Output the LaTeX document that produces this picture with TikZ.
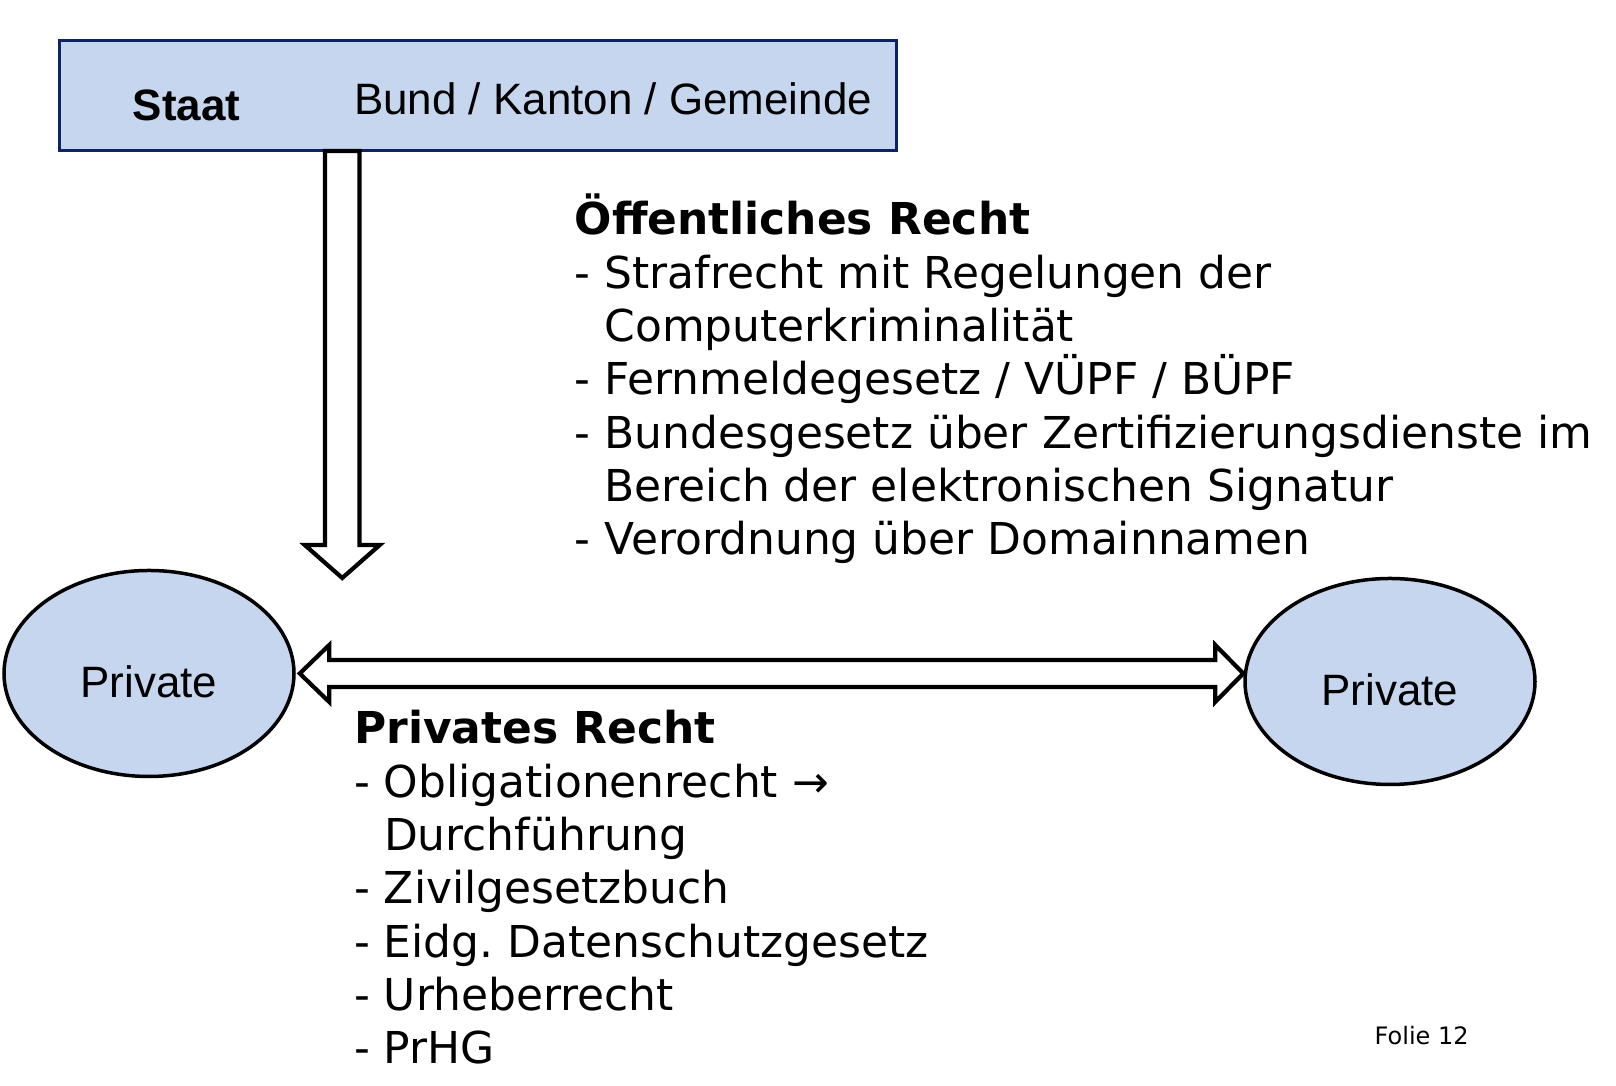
\documentclass[tikz,border=0pt]{standalone}
\usepackage{xcolor}
\usepackage{amsmath}
\usepackage{fontspec}
\usepackage{tikz}
\usetikzlibrary{calc}
\usetikzlibrary{shapes.geometric}
\setmainfont{DejaVu Sans}
\newfontfamily\arialfont{Liberation Sans}

\begin{document}
\begin{tikzpicture}[
    staatbox/.style={draw=r12g36b98, fill=r198g214b239, line width=0.030cm, inner sep=0pt},
    boxtext/.style={anchor=base west, inner sep=0pt, font=\arialfont\fontsize{12.5}{15}\selectfont},
    listtext/.style={anchor=base west, inner sep=0pt, font=\frenchspacing\fontsize{12.5}{15.16}\selectfont},
    privnode/.style={ellipse, draw=black, fill=r198g214b239, line width=0.035cm, inner sep=0pt,
        minimum width=2.900cm, minimum height=2.060cm, text height=0.49cm,
        font=\arialfont\fontsize{12.5}{15}\selectfont},
    blockarrow/.style={draw=black, fill=white, line width=0.042cm, line join=miter}
  ]
                        \useasboundingbox (0.000000,0.000000) rectangle (16.160000,10.860000);

                        % Changing color 198 214 239 / 12 36 98
                        \definecolor{r198g214b239}{RGB}{198,214,239}%
                        \definecolor{r12g36b98}{RGB}{12,36,98}%

                        % Drawing box Staat
                        \node [staatbox, anchor=south west, minimum width=8.369000cm, minimum height=1.105000cm] (staat) at (0.577000,9.335000) {};
                        \node [boxtext] (staatlabel) at (1.320000,9.654000) {\bfseries Staat};
                        \node [boxtext] (ebenen) at (3.535000,9.716000) {Bund / Kanton / Gemeinde};

                        % Drawing ellipses Private
                        \node [privnode] (privL) at (1.490000,4.125000) {Private};
                        \node [privnode] (privR) at (13.900000,4.045000) {Private};

                        % Drawing arrow Staat -> Private
                        \coordinate (dtop) at ($(staat.south west)+(2.845500,0.015000)$);
                        \coordinate (dtip) at (dtop |- 0,5.080000);
                        \draw [blockarrow] ($(dtop)+(-0.172500,0)$) -- ($(dtip)+(-0.172500,0.330000)$) -- ++(-0.202500,0)
                            -- (dtip) -- ++(0.375000,0.330000) -- ++(-0.202500,0) -- ($(dtop)+(0.172500,0)$) -- cycle;%

                        % Drawing arrow Private <-> Private
                        \coordinate (dl) at ($(privL.east)+(0.040000,0)$);
                        \coordinate (dr) at (privR.west |- dl);
                        \draw [blockarrow] (dl) -- ++(0.295000,0.285000) -- ++(0,-0.150000) -- ($(dr)+(-0.280000,0.135000)$)
                            -- ++(0,0.150000) -- (dr) -- ++(-0.280000,-0.285000) -- ++(0,0.150000)
                            -- ($(dl)+(0.295000,-0.135000)$) -- ++(0,-0.150000) -- cycle;%

                        % Marking text Oeffentliches Recht
                        \node [listtext] (oeffentlich) at (5.740000,8.510000) {\begin{tabular}[t]{@{}l@{}}
                            \smash{\textbf{Öffentliches Recht}}\\
                            - Strafrecht mit Regelungen der\\
                            \hphantom{- }Computerkriminalität\\
                            \smash{- Fernmeldegesetz / VÜPF / BÜPF}\\
                            - Bundesgesetz über Zertifizierungsdienste im\\
                            \hphantom{- }Bereich der elektronischen Signatur\\
                            - Verordnung über Domainnamen
                            \end{tabular}};

                        % Marking text Privates Recht
                        \node [listtext] (privat) at (3.535000,3.420000) {\begin{tabular}[t]{@{}l@{}}
                            \textbf{Privates Recht}\\
                            - Obligationenrecht → \\
                            \hphantom{- }Durchführung\\
                            - Zivilgesetzbuch\\
                            - Eidg. Datenschutzgesetz\\
                            - Urheberrecht\\
                            - PrHG
                            \end{tabular}};

                        % Marking text Folie
                        \node [anchor=base west, inner sep=0pt, font=\fontsize{6.83}{8}\selectfont] (folie) at (13.740000,0.410000) {Folie 12};
\end{tikzpicture}
\end{document}
